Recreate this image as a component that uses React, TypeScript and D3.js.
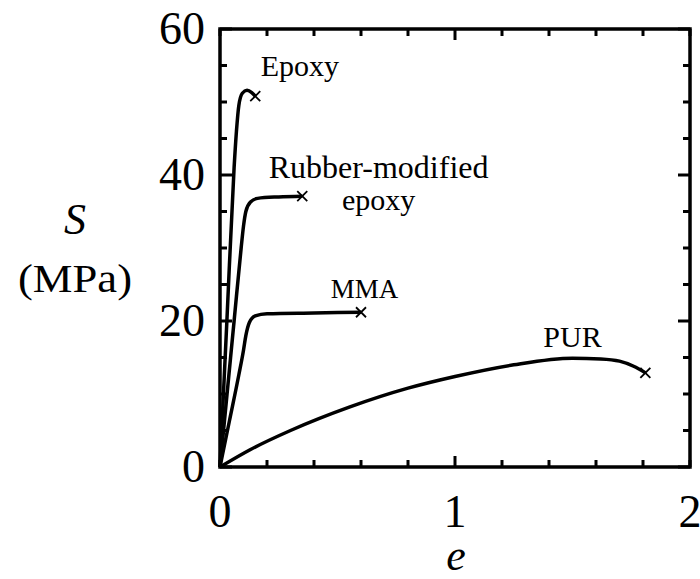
import React from "react";
import * as d3 from "d3";

// strain e vs stress S (MPa)
const epoxy: [number, number][] = [
  [0, 0], [0.03, 20.5], [0.06, 41], [0.07, 46], [0.08, 49.5],
  [0.095, 51.2], [0.115, 51.6], [0.135, 51.3], [0.15, 50.8],
];
const rubberEpoxy: [number, number][] = [
  [0, 0], [0.03, 10], [0.06, 20], [0.09, 30], [0.1, 33], [0.11, 35],
  [0.13, 36.3], [0.16, 36.8], [0.25, 37], [0.35, 37.1],
];
const mma: [number, number][] = [
  [0, 0], [0.04, 6.3], [0.08, 12.6], [0.1, 16], [0.11, 18], [0.125, 19.8],
  [0.15, 20.7], [0.2, 21], [0.4, 21.1], [0.6, 21.2],
];
const pur: [number, number][] = [
  [0, 0], [0.13, 2.4], [0.3, 5.0], [0.55, 8.2], [0.8, 10.8], [1.0, 12.4],
  [1.25, 14.0], [1.5, 14.9], [1.62, 14.8], [1.7, 14.5], [1.76, 13.8], [1.81, 12.9],
];

const curves = [
  { name: "Epoxy", data: epoxy },
  { name: "Rubber-modified epoxy", data: rubberEpoxy },
  { name: "MMA", data: mma },
  { name: "PUR", data: pur },
];

// label anchors in data units
const labels = [
  { lines: ["Epoxy"], e: 0.34, s: 53.5, size: 30 },
  { lines: ["Rubber-modified"], e: 0.675, s: 39.6, size: 32 },
  { lines: ["epoxy"], e: 0.675, s: 35.2, size: 30 },
  { lines: ["MMA"], e: 0.615, s: 23.1, size: 27 },
  { lines: ["PUR"], e: 1.5, s: 16.4, size: 30 },
];

const xMajor = [0, 1, 2];
const yMajor = [0, 20, 40, 60];

const width = 700;
const height = 579;
const left = 220;
const right = 690;
const top = 29;
const bottom = 467;

const x = d3.scaleLinear().domain([0, 2]).range([left, right]);
const y = d3.scaleLinear().domain([0, 60]).range([bottom, top]);

const line = d3
  .line<[number, number]>()
  .x((d) => x(d[0]))
  .y((d) => y(d[1]))
  .curve(d3.curveMonotoneX);

const font = '"Liberation Serif", "Times New Roman", Times, serif';

export default function App() {
  const xTicks = d3.range(0, 2.0001, 0.2);
  const yTicks = d3.range(0, 60.0001, 5);
  return (
    <svg
      width={width}
      height={height}
      style={{ position: "absolute", left: 0, top: 0, background: "#fff", fontFamily: font }}
    >
      {/* ticks, inward on all four sides */}
      {xTicks.map((t, i) => {
        const len = Math.abs(t - 1) < 1e-6 ? 11 : 7;
        return (
          <g key={"xt" + i} stroke="#000" strokeWidth={3}>
            <line x1={x(t)} x2={x(t)} y1={bottom} y2={bottom - len} />
            <line x1={x(t)} x2={x(t)} y1={top} y2={top + len} />
          </g>
        );
      })}
      {yTicks.map((t, i) => {
        const len = t % 20 === 0 ? 12 : 7;
        return (
          <g key={"yt" + i} stroke="#000" strokeWidth={3}>
            <line x1={left} x2={left + len} y1={y(t)} y2={y(t)} />
            <line x1={right} x2={right - len} y1={y(t)} y2={y(t)} />
          </g>
        );
      })}
      <rect
        x={left}
        y={top}
        width={right - left}
        height={bottom - top}
        fill="none"
        stroke="#000"
        strokeWidth={3.5}
      />

      {/* tick labels */}
      {xMajor.map((t) => (
        <text key={"xl" + t} x={x(t)} y={527} textAnchor="middle" fontSize={46}>
          {t}
        </text>
      ))}
      {yMajor.map((t) => (
        <text
          key={"yl" + t}
          x={205}
          y={y(t) + 15}
          textAnchor="end"
          fontSize={46}
        >
          {t}
        </text>
      ))}

      {/* axis titles */}
      <text x={456} y={570} textAnchor="middle" fontSize={44} fontStyle="italic">
        e
      </text>
      <text x={75} y={234} textAnchor="middle" fontSize={44} fontStyle="italic">
        S
      </text>
      <text
        x={75}
        y={292}
        textAnchor="middle"
        fontSize={40}
        textLength={114}
        lengthAdjust="spacingAndGlyphs"
      >
        (MPa)
      </text>

      {/* curves */}
      {curves.map((c) => {
        const end = c.data[c.data.length - 1];
        const ex = x(end[0]);
        const ey = y(end[1]);
        return (
          <g key={c.name}>
            <path d={line(c.data) ?? ""} fill="none" stroke="#000" strokeWidth={3.5} />
            <g stroke="#000" strokeWidth={1.8}>
              <line x1={ex - 5} x2={ex + 5} y1={ey - 5} y2={ey + 5} />
              <line x1={ex - 5} x2={ex + 5} y1={ey + 5} y2={ey - 5} />
            </g>
          </g>
        );
      })}

      {/* curve labels */}
      {labels.map((l) => (
        <text
          key={l.lines[0]}
          x={x(l.e)}
          y={y(l.s)}
          textAnchor="middle"
          fontSize={l.size}
        >
          {l.lines[0]}
        </text>
      ))}
    </svg>
  );
}
